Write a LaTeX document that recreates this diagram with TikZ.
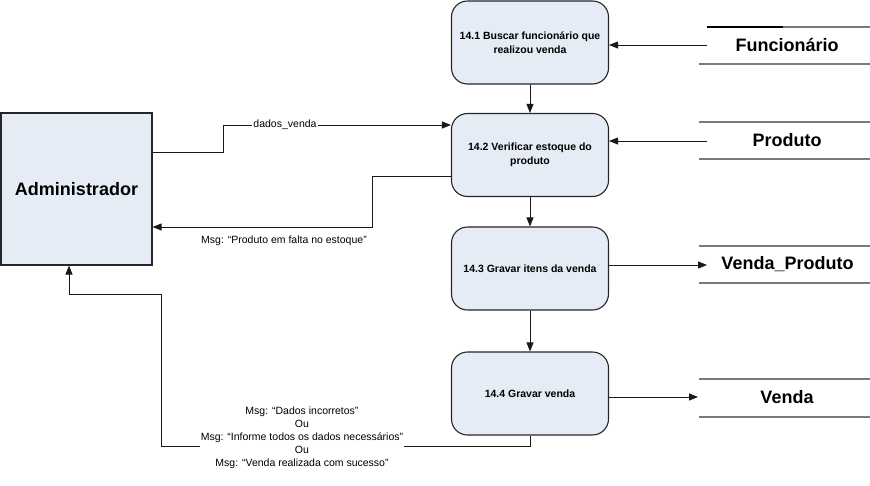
\documentclass[tikz,border=0pt]{standalone}
\usepackage{fontspec}
\setmainfont{Liberation Sans}
\usetikzlibrary{arrows.meta}
\definecolor{procfill}{HTML}{E5ECF6}
\definecolor{storeline}{HTML}{7A7A7A}
\tikzset{
  proc/.style={draw=black!85, line width=1.1pt, fill=procfill, rounded corners=16pt,
    minimum width=157pt, minimum height=83pt, align=center,
    font=\fontsize{10.5}{14.5}\selectfont\bfseries},
  ext/.style={draw=black!85, line width=1.1pt, fill=procfill,
    minimum width=151pt, minimum height=152pt,
    font=\fontsize{18}{22}\selectfont\bfseries},
  storetext/.style={font=\fontsize{18}{22}\selectfont\bfseries, inner sep=0pt},
  storeedge/.style={draw=storeline, line width=1.5pt},
  flow/.style={draw=black!90, line width=0.9pt, -{Triangle[length=9pt,width=7pt]}},
  flowlabel/.style={fill=white, inner sep=1pt, align=center,
    font=\fontsize{10.5}{13}\selectfont}
}
\begin{document}
\begin{tikzpicture}[x=1pt, y=-1pt]
\useasboundingbox (0,0) rectangle (870,485);

% external entity
\node[ext] (admin) at (76.5,189) {Administrador};

% processes
\node[proc] (p1) at (530,42.5) {14.1 Buscar funcionário que\\realizou venda};
\node[proc] (p2) at (530,155) {14.2 Verificar estoque do\\produto};
\node[proc] (p3) at (530,268.5) {14.3 Gravar itens da venda};
\node[proc] (p4) at (530,393.5) {14.4 Gravar venda};

% data stores (open-ended, two parallel lines)
\node[storetext] (funcionario) at (787,45) {Funcionário};
\draw[draw=black, line width=1.5pt] (707,27) -- (783,27);
\draw[storeedge] (783,27) -- (870,27);
\draw[storeedge] (699,64) -- (870,64);

\node[storetext] (produto) at (787,140) {Produto};
\draw[storeedge] (699,122) -- (870,122);
\draw[storeedge] (699,159) -- (870,159);

\node[storetext] (vendaproduto) at (787.5,264) {Venda\_Produto};
\draw[storeedge] (699,246) -- (870,246);
\draw[storeedge] (699,283) -- (870,283);

\node[storetext] (venda) at (787,397) {Venda};
\draw[storeedge] (699,379) -- (870,379);
\draw[storeedge] (699,417) -- (870,417);

% store connection points
\coordinate (fin) at (707,45);
\coordinate (pin) at (707,141);
\coordinate (vpout) at (707,265);
\coordinate (vout) at (698,397);

% flows between stores and processes
\draw[flow] (fin) -- (p1.east |- fin);
\draw[flow] (pin) -- (p2.east |- pin);
\draw[flow] (p3.east |- vpout) -- (vpout);
\draw[flow] (p4.east |- vout) -- (vout);

% process sequence
\draw[flow] (p1) -- (p2);
\draw[flow] (p2) -- (p3);
\draw[flow] (p3) -- (p4);

% dados_venda
\coordinate (d1) at (223,152);
\coordinate (d2) at (223,125);
\draw[flow] (admin.east |- d1) -- (d1) -- (d2) -- (p2.west |- d2);
\node[flowlabel] (lbldados) at (285,125) {dados\_venda};

% out-of-stock message
\coordinate (m1) at (372,176);
\coordinate (m2) at (372,227);
\draw[flow] (p2.west |- m1) -- (m1) -- (m2) -- (admin.east |- m2);
\node[font=\fontsize{10.5}{13}\selectfont] (lblfalta) at (284,241) {Msg: “Produto em falta no estoque”};

% result messages
\coordinate (r1) at (530,446);
\coordinate (r2) at (161,446);
\coordinate (r3) at (161,294);
\coordinate (r4) at (69,294);
\draw[flow] (p4.south) -- (r1) -- (r2) -- (r3) -- (r4) -- (admin.south -| r4);
\node[flowlabel] (lblmsg) at (302,438) {Msg: “Dados incorretos”\\Ou\\Msg: “Informe todos os dados necessários”\\Ou\\Msg: “Venda realizada com sucesso”};
\end{tikzpicture}
\end{document}
